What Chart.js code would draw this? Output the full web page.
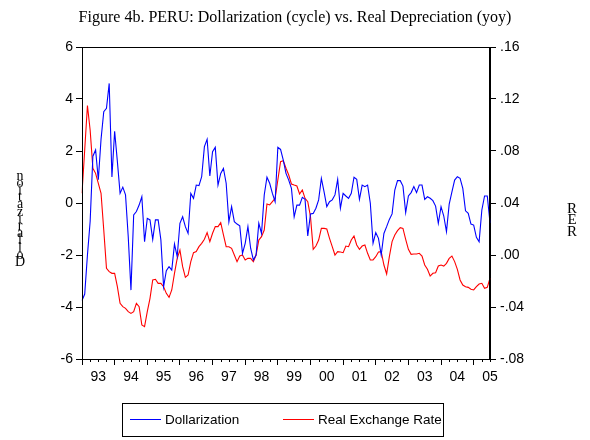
<!DOCTYPE html>
<html><head><meta charset="utf-8">
<script src="https://cdn.jsdelivr.net/npm/chart.js@4/dist/chart.umd.min.js"></script>
<style>html,body{margin:0;padding:0;background:#fff;}#wrap{width:590px;height:440px;}</style>
</head><body><div id="wrap"><canvas id="c" width="590" height="440"></canvas></div>
<script>
const chartTitle = "Figure 4b. PERU: Dollarization (cycle) vs. Real Depreciation (yoy)";
const leftAxisTitle = "Dollarization";
const rightAxisTitle = "RER";
const yearLabels = ["93","94","95","96","97","98","99","00","01","02","03","04","05"];
const firstYear = 1993;
const lastMonthOf2005 = 7;
const seriesNames = ["Dollarization", "Real Exchange Rate"];
const leftTicks = [-6, -4, -2, 0, 2, 4, 6];
const rightTicks = [-0.08, -0.04, 0.00, 0.04, 0.08, 0.12, 0.16];

const dollarization = [
 -3.75, -3.5, -2.0, -0.7, 1.8, 2.04, 0.9, 2.45, 3.51, 3.64,
 4.6, 1.0, 2.76, 1.6, 0.37, 0.61, 0.31, -1.3, -3.35, -0.46,
 -0.33, -0.08, 0.24, -1.49, -0.59, -0.65, -1.4, -0.65, -0.65, -1.42,
 -3.22, -2.6, -2.45, -2.58, -1.58, -2.06, -0.78, -0.53, -0.91, -1.17,
 0.37, 0.18, 0.69, 0.67, 1.01, 2.17, 2.45,
 1.04, 1.97, 2.14, 0.69, 1.14, 1.33, 0.76, -0.72, -0.14, -0.72,
 -0.81, -0.88, -1.94, -1.55, -0.91, -1.74, -2.19, -2.0, -0.78, -1.17,
 0.31, 0.99, 0.76, 0.37, 0.05, 2.14, 2.06, 1.65, 1.14, 0.88,
 0.56, -0.53, -0.08, -0.08, 0.22, 0.14, -1.27, -0.42, -0.4, -0.2,
 0.12, 0.95, 0.43, -0.14, 0.05, 0.12, 0.31, 0.91, -0.2, 0.37, 0.27, 0.18,
 0.37, 0.99, 0.91, 0.14, 0.69, 0.63, 0.69, -0.01, -1.55, -1.14,
 -1.36, -2.0, -1.17, -0.91, -0.63, -0.42, 0.5, 0.86, 0.86, 0.65,
 -0.37, 0.27, 0.4, 0.63, 0.4, 0.69, 0.69, 0.14, 0.24, 0.18,
 0.09, -0.12, -0.78, -0.14, -0.5, -1.1, -0.04, 0.43, 0.88, 1.01,
 0.95, 0.56, -0.3, -0.4, -0.81, -0.85, -1.32, -1.49, -0.27, 0.27, 0.27, -0.76
];

const realExchangeRate = [
 0.0475, 0.081, 0.115, 0.096, 0.0667, 0.0628, 0.0551, 0.0475, 0.0192, -0.0102,
 -0.0128, -0.0141, -0.0141, -0.0244, -0.0372, -0.0397, -0.041, -0.0436, -0.0449, -0.0436,
 -0.0372, -0.0397, -0.0538, -0.0551, -0.0436, -0.0333, -0.0192, -0.0187, -0.0218, -0.0218,
 -0.0244, -0.0295, -0.0326, -0.0269, -0.0141, -0.0026, 0.0038, -0.009, -0.0172, -0.0154,
 -0.0051, 0.0018, 0.0026, 0.0064, 0.009, 0.0121, 0.0172,
 0.0103, 0.0167, 0.0218, 0.0218, 0.0249, 0.0154, 0.0064, 0.0064, 0.0051, 0.0,
 -0.0051, -0.0008, 0.0, -0.0038, -0.0026, -0.0026, -0.0051, 0.0, 0.0115, 0.0141,
 0.0192, 0.0392, 0.0385, 0.041, 0.0436, 0.0577, 0.0718, 0.0726, 0.0667, 0.0615,
 0.0546, 0.0538, 0.0531, 0.0469, 0.05, 0.0436, 0.041, 0.0295, 0.0044, 0.0069,
 0.0115, 0.0205, 0.0205, 0.02, 0.0128, 0.0064, 0.0, 0.0026, 0.0023, 0.0018, 0.0069, 0.0064,
 0.0115, 0.0146, 0.0077, 0.0044, 0.0069, 0.0077, 0.0013, -0.0038, -0.0038, -0.0013,
 0.0023, 0.0026, -0.0077, -0.0146, -0.0013, 0.0103, 0.0154, 0.0187, 0.021, 0.0205,
 0.0121, 0.0044, 0.0005, 0.0008, 0.0008, 0.0013, -0.0008, -0.0077, -0.011, -0.0162,
 -0.0141, -0.0136, -0.0085, -0.0077, -0.0085, -0.0064, -0.0026, -0.0008, -0.0051, -0.011,
 -0.0192, -0.0231, -0.0244, -0.0249, -0.0264, -0.0269, -0.0244, -0.0223, -0.0218, -0.0256, -0.0249, -0.0179
];

// month categories 1993M01 .. 2005M07
const months = [];
for (let y = 0; y < yearLabels.length; y++) {
  const last = (y === yearLabels.length - 1) ? lastMonthOf2005 : 12;
  for (let m = 1; m <= last; m++) months.push((firstYear + y) + "M" + String(m).padStart(2, "0"));
}

const SANS = "'Liberation Sans', Arial, sans-serif";
const SERIF = "'Liberation Serif', 'Times New Roman', serif";

const decoPlugin = {
  id: 'deco',
  afterDraw(chart) {
    const ctx = chart.ctx;
    const a = chart.chartArea;
    const xs = chart.scales.x;
    ctx.save();
    ctx.strokeStyle = '#000';
    ctx.lineWidth = 1;
    ctx.strokeRect(Math.round(a.left) + 0.5, Math.round(a.top) + 0.5, Math.round(a.right - a.left) - 1, Math.round(a.bottom - a.top));
    ctx.beginPath();
    for (let i = 0; i < months.length; i++) {
      if (i % 3 === 0 && i % 12 !== 0) {
        const x = Math.round(xs.getPixelForValue(i)) + 0.5;
        ctx.moveTo(x, a.bottom);
        ctx.lineTo(x, a.bottom + 3);
      }
    }
    ctx.stroke();
    ctx.fillStyle = '#000';
    ctx.font = "16px " + SERIF;
    ctx.textAlign = 'center';
    ctx.textBaseline = 'middle';
    ctx.fillText(chartTitle, 295, 18);
    ctx.font = "14px " + SERIF;
    const lt = leftAxisTitle.split('').reverse();
    lt.forEach((ch, k) => ctx.fillText(ch, 20, 176 + k * 7.2));
    const rt = rightAxisTitle.split('').reverse();
    ctx.font = "15px " + SERIF;
    rt.forEach((ch, k) => ctx.fillText(ch, 572, 209 + k * 11.5));
    ctx.strokeRect(122.5, 403.5, 321, 33);
    ctx.font = "13.5px " + SANS;
    ctx.textAlign = 'left';
    const items = [[130, 165], [283, 318]];
    chart.data.datasets.forEach((ds, k) => {
      ctx.strokeStyle = ds.borderColor;
      ctx.beginPath();
      ctx.moveTo(items[k][0], 419.5);
      ctx.lineTo(items[k][0] + 31, 419.5);
      ctx.stroke();
      ctx.fillStyle = '#000';
      ctx.fillText(ds.label, items[k][1], 420);
    });
    ctx.restore();
  }
};

new Chart(document.getElementById('c'), {
  type: 'line',
  data: {
    labels: months,
    datasets: [
      { label: seriesNames[0], data: dollarization, yAxisID: 'y', borderColor: '#0000FF', borderWidth: 1.1, pointRadius: 0, tension: 0, fill: false },
      { label: seriesNames[1], data: realExchangeRate, yAxisID: 'y1', borderColor: '#FF0000', borderWidth: 1.1, pointRadius: 0, tension: 0, fill: false }
    ]
  },
  options: {
    responsive: false,
    animation: false,
    devicePixelRatio: 1,
    layout: { padding: { top: 47, left: 0, right: 0, bottom: 0 } },
    plugins: { legend: { display: false }, title: { display: false }, tooltip: { enabled: false } },
    scales: {
      x: {
        type: 'category',
        offset: false,
        grid: { drawOnChartArea: false, drawTicks: true, tickLength: 6, tickWidth: 1,
          tickColor: (c) => (c.index % 12 === 0 ? '#000' : 'rgba(0,0,0,0)') },
        border: { display: true, color: '#000', width: 1 },
        ticks: { autoSkip: false, maxRotation: 0, minRotation: 0, padding: 4, color: '#000',
          font: { family: SANS, size: 14 },
          callback: (v, i) => (i % 12 === 6 ? yearLabels[Math.floor(i / 12)] : '') },
        afterFit: (s) => { s.height = 81; }
      },
      y: {
        position: 'left',
        min: leftTicks[0], max: leftTicks[leftTicks.length - 1],
        afterBuildTicks: (s) => { s.ticks = leftTicks.map(v => ({ value: v })); },
        grid: { drawOnChartArea: false, tickLength: 6, tickColor: '#000' },
        border: { display: true, color: '#000' },
        ticks: { color: '#000', padding: 3, font: { family: SANS, size: 14 }, callback: (v) => String(v) },
        afterFit: (s) => { s.width = 82; }
      },
      y1: {
        position: 'right',
        min: rightTicks[0], max: rightTicks[rightTicks.length - 1],
        afterBuildTicks: (s) => { s.ticks = rightTicks.map(v => ({ value: v })); },
        grid: { drawOnChartArea: false, tickLength: 6, tickColor: '#000' },
        border: { display: true, color: '#000' },
        ticks: { color: '#000', padding: 4, font: { family: SANS, size: 14 },
          callback: (v) => { const s = (Math.round(v * 100) / 100).toFixed(2); return s.replace('0.', '.'); } },
        afterFit: (s) => { s.width = 100; }
      }
    }
  },
  plugins: [decoPlugin]
});
</script></body></html>
